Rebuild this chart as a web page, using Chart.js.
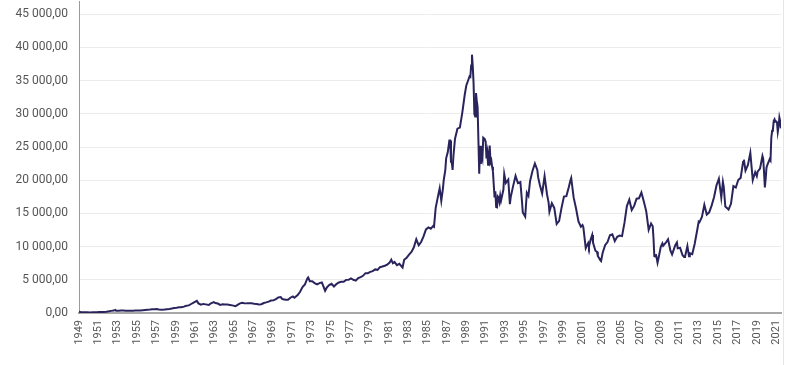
<!DOCTYPE html>
<html>
<head>
<meta charset="utf-8">
<script src="https://cdn.jsdelivr.net/npm/chart.js@4"></script>
<style>
html,body{margin:0;padding:0;background:#fff;}
#wrap{width:783px;height:365px;border-right:1px solid #e6e6e6;}
canvas{display:block;}
</style>
</head>
<body>
<div id="wrap"><canvas id="c" width="783" height="365"></canvas></div>
<script>
const months = [
'1949-05','1949-08','1949-12','1950-03','1950-07','1950-10','1950-12','1951-03','1951-06','1951-09','1951-12',
'1952-03','1952-06','1952-09','1952-12','1953-02','1953-03','1953-06','1953-09','1953-12',
'1954-03','1954-06','1954-09','1954-12','1955-03','1955-06','1955-09','1955-12',
'1956-03','1956-06','1956-09','1956-12','1957-03','1957-05','1957-08','1957-12',
'1958-03','1958-06','1958-09','1958-12','1959-03','1959-06','1959-09','1959-12',
'1960-03','1960-06','1960-09','1960-12','1961-03','1961-07','1961-09','1961-12',
'1962-03','1962-06','1962-10','1962-12','1963-04','1963-06','1963-09','1963-12',
'1964-03','1964-06','1964-09','1964-12','1965-03','1965-07','1965-09','1965-12',
'1966-03','1966-06','1966-09','1966-12','1967-03','1967-06','1967-09','1967-12',
'1968-03','1968-06','1968-09','1968-12','1969-03','1969-06','1969-09','1969-12',
'1970-03','1970-05','1970-09','1970-12','1971-03','1971-06','1971-08','1971-12',
'1972-03','1972-06','1972-09','1972-12','1973-01','1973-03','1973-06','1973-09','1973-12',
'1974-03','1974-06','1974-10','1974-12','1975-03','1975-06','1975-09','1975-12',
'1976-03','1976-06','1976-09','1976-12','1977-03','1977-06','1977-09','1977-12',
'1978-03','1978-06','1978-09','1978-12','1979-03','1979-06','1979-09','1979-12',
'1980-03','1980-06','1980-09','1980-12','1981-03','1981-06','1981-08','1981-10','1981-12',
'1982-03','1982-06','1982-10','1982-12','1983-03','1983-06','1983-09','1983-12',
'1984-03','1984-06','1984-09','1984-12','1985-03','1985-06','1985-09','1985-12',
'1986-01','1986-03','1986-06','1986-08','1986-10','1986-12',
'1987-01','1987-03','1987-04','1987-06','1987-08','1987-09','1987-10','1987-11','1987-12',
'1988-01','1988-03','1988-06','1988-09','1988-12',
'1989-03','1989-05','1989-07','1989-09','1989-10','1989-11','1989-12',
'1990-01','1990-02','1990-03','1990-04','1990-05','1990-06','1990-07','1990-08','1990-09','1990-10','1990-11','1990-12',
'1991-01','1991-02','1991-03','1991-04','1991-05','1991-06','1991-07','1991-08','1991-09','1991-10','1991-11','1991-12',
'1992-01','1992-02','1992-03','1992-04','1992-05','1992-06','1992-07','1992-08','1992-09','1992-10','1992-11','1992-12',
'1993-03','1993-04','1993-06','1993-09','1993-11','1993-12',
'1994-03','1994-06','1994-09','1994-12',
'1995-02','1995-03','1995-06','1995-08','1995-10','1995-12',
'1996-03','1996-06','1996-09','1996-10','1996-12',
'1997-03','1997-06','1997-09','1997-11','1997-12',
'1998-03','1998-06','1998-09','1998-10','1998-12',
'1999-03','1999-06','1999-09','1999-12',
'2000-02','2000-03','2000-06','2000-09','2000-12',
'2001-03','2001-05','2001-06','2001-09','2001-12',
'2002-01','2002-03','2002-05','2002-06','2002-09','2002-11','2002-12',
'2003-03','2003-04','2003-06','2003-09','2003-12',
'2004-03','2004-06','2004-09','2004-12',
'2005-03','2005-06','2005-09','2005-12',
'2006-03','2006-06','2006-09','2006-12',
'2007-03','2007-06','2007-09','2007-12',
'2008-03','2008-06','2008-08','2008-09','2008-10','2008-11','2008-12',
'2009-02','2009-03','2009-06','2009-08','2009-09','2009-12',
'2010-03','2010-06','2010-08','2010-12',
'2011-02','2011-03','2011-06','2011-09','2011-11','2011-12',
'2012-03','2012-05','2012-06','2012-09','2012-12',
'2013-03','2013-05','2013-06','2013-09','2013-12',
'2014-03','2014-06','2014-09','2014-12',
'2015-03','2015-06','2015-09','2015-11','2015-12',
'2016-02','2016-06','2016-09','2016-12',
'2017-03','2017-06','2017-09','2017-12',
'2018-01','2018-03','2018-06','2018-09','2018-12',
'2019-03','2019-05','2019-06','2019-09','2019-12',
'2020-01','2020-02','2020-03','2020-04','2020-05','2020-06','2020-09','2020-10','2020-11','2020-12',
'2021-01','2021-02','2021-03','2021-04','2021-05','2021-06','2021-07','2021-08','2021-09','2021-10','2021-11'
];
const values = [
176,130,110,100,85,95,102,125,140,160,166,
190,250,320,362,474,340,350,380,377,
350,340,330,356,365,370,390,425,
460,500,520,549,570,595,520,475,
520,580,610,666,760,800,860,874,
960,1100,1150,1356,1570,1829,1450,1255,
1370,1300,1216,1420,1634,1500,1430,1225,
1300,1280,1270,1216,1150,1020,1180,1417,
1550,1480,1450,1452,1450,1400,1360,1283,
1320,1500,1600,1714,1880,1900,2100,2358,
2400,2100,2000,1987,2300,2500,2300,2713,
3200,3900,4300,5207,5359,4800,4800,4500,4306,
4500,4600,3355,3817,4200,4400,4000,4358,
4600,4700,4700,4990,5000,5200,5000,4865,
5250,5400,5600,6001,6000,6200,6300,6569,
6500,6900,7000,7116,7300,7600,8019,7500,7681,
7200,7400,6849,8016,8300,8800,9200,9893,
11100,10200,10700,11542,12600,12900,12700,13113,
13000,15800,17650,18800,16900,18701,
20000,21566,23300,24200,26000,26000,22765,22700,21564,
23600,26260,27770,27920,30159,
32839,34266,34954,35636,35549,37269,38916,
37189,34592,29980,29585,33131,31940,31036,25978,20984,25194,22455,23849,
23293,26409,26292,26111,25790,23291,24121,22336,23916,25222,22687,22984,
22023,21339,19346,17390,18348,15952,15910,17555,17399,16767,17684,16925,
18591,20919,19590,20106,16408,17417,
19112,20644,19564,19723,
16808,15140,14517,18117,17654,19868,
21406,22530,21556,20466,19361,
18003,20604,17888,16636,15258,
16527,15830,13406,13565,13842,
15837,17530,17605,18934,
19960,20337,17411,15747,13786,
12999,13262,12969,9774,10543,
9997,11025,11764,10621,9383,9216,8579,
7973,7831,9083,10219,10677,
11715,11858,10824,11489,
11669,11584,13574,16111,
17060,15505,16128,17226,
17288,18138,16786,15308,
12526,13482,13073,11260,8577,8512,8860,
7568,8110,9958,10493,10134,10546,
11090,9383,8824,10229,
10624,9755,9816,8700,8435,8455,
10084,8543,9007,8870,10395,
12398,13775,13677,14456,16291,
14828,15162,16174,17451,
19207,20236,17388,19747,19034,
16027,15576,16450,19114,
18909,20033,20356,22765,
23098,21454,22305,24120,20015,
21206,20601,21276,21756,23657,
23205,21143,18917,20194,21878,22288,23185,22977,26434,27444,
27663,28966,29179,28813,28860,28792,27284,28090,29453,28893,27822
];
const tickYears = [1949,1951,1953,1955,1957,1959,1961,1963,1965,1967,1969,1971,1973,1975,1977,1979,1981,1983,1985,1987,1989,1991,1993,1995,1997,1999,2001,2003,2005,2007,2009,2011,2013,2015,2017,2019,2021];
const yTicks = [0,5000,10000,15000,20000,25000,30000,35000,40000,45000];

function toDec(m){ const p = m.split('-'); return +p[0] + (+p[1]-1)/12; }
const startX = toDec(months[0]);
const endX = toDec(months[months.length-1]);
const points = months.map((m,i)=>({x: toDec(m), y: values[i]}));
function fmt(n){ return String(n).replace(/\B(?=(\d{3})+(?!\d))/g,' ') + ',00'; }

new Chart(document.getElementById('c'), {
  type: 'line',
  data: { datasets: [{
    data: points,
    borderColor: '#29245c',
    borderWidth: 2,
    pointRadius: 0,
    tension: 0,
    fill: false
  }]},
  options: {
    responsive: false,
    animation: false,
    layout: { padding: { left: 0, right: 2, top: 1, bottom: 0 } },
    plugins: { legend: { display: false }, tooltip: { enabled: false } },
    scales: {
      x: {
        type: 'linear',
        min: startX,
        max: endX,
        afterBuildTicks: s => { s.ticks = tickYears.map((y,k)=>({value: startX + 2*k})); },
        afterFit: s => { s.height = 52; s.paddingLeft = 0; s.paddingRight = 0; },
        grid: { display: false, drawTicks: false },
        border: { color: '#a8a8a8', width: 2 },
        ticks: {
          autoSkip: false, minRotation: 90, maxRotation: 90, padding: 7,
          color: '#555', font: { family: 'Roboto', size: 11 },
          callback: (v, i) => tickYears[i]
        }
      },
      y: {
        min: 0, max: 47000,
        afterBuildTicks: s => { s.ticks = yTicks.map(v => ({value: v})); },
        afterFit: s => { s.width = 79; s.paddingTop = 0; s.paddingBottom = 0; },
        grid: { color: '#ececec', lineWidth: 1, drawTicks: false },
        border: { color: '#9a9a9a', width: 1 },
        ticks: {
          autoSkip: false, padding: 11,
          color: '#555', font: { family: 'Roboto', size: 12 },
          callback: v => fmt(v)
        }
      }
    }
  }
});
</script>
</body>
</html>
